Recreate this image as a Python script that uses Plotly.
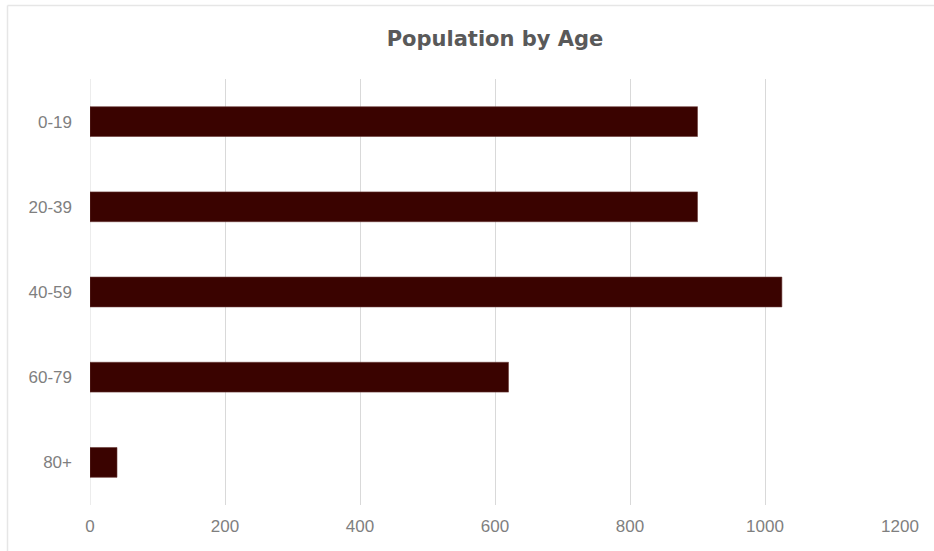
import plotly.graph_objects as go

categories = ["0-19", "20-39", "40-59", "60-79", "80+"]
values = [900, 900, 1025, 620, 40]
x_ticks = [0, 200, 400, 600, 800, 1000, 1200]

W, H = 934, 551
L, R, T, B = 90, 34, 79, 46

fig = go.Figure()
fig.add_trace(go.Bar(
    y=categories, x=values, orientation="h",
    marker=dict(color="#3a0300", line=dict(color="#6a3a38", width=0.6)),
    width=0.35,
))

def px_x(p):
    return (p - L) / (W - L - R)

def px_y(p):
    return 1 - (p - T) / (H - T - B)

# chart frame: top and left edges visible in the reference
fig.add_shape(type="line", xref="paper", yref="paper",
              x0=px_x(7.5), x1=px_x(934), y0=px_y(5.5), y1=px_y(5.5),
              line=dict(color="#e6e6e6", width=1.5), layer="below")
fig.add_shape(type="line", xref="paper", yref="paper",
              x0=px_x(7.5), x1=px_x(7.5), y0=px_y(5.5), y1=px_y(551),
              line=dict(color="#e6e6e6", width=1.5), layer="below")

fig.update_layout(
    width=W, height=H,
    margin=dict(l=L, r=R, t=T, b=B),
    paper_bgcolor="white", plot_bgcolor="white",
    showlegend=False,
    title=dict(text="<b>Population by Age</b>", x=0.5, xref="paper", xanchor="center",
               y=1 - 39 / H, yanchor="middle",
               font=dict(family="DejaVu Sans, sans-serif", size=21, color="#595959")),
    xaxis=dict(range=[0, 1200], tickvals=x_ticks, ticktext=[str(v) for v in x_ticks],
               showgrid=True, gridcolor="#d9d9d9", gridwidth=1, zeroline=False,
               showline=False, ticks="", ticklabelstandoff=9,
               tickfont=dict(family="Liberation Sans, Arial, sans-serif", size=17, color="#7f7f7f")),
    yaxis=dict(categoryorder="array", categoryarray=categories, autorange="reversed",
               showgrid=False, zeroline=False, showline=False, ticks="", ticklabelstandoff=17,
               tickfont=dict(family="Liberation Sans, Arial, sans-serif", size=17, color="#7f7f7f")),
)
fig.add_shape(type="line", xref="x", yref="paper", x0=0, x1=0, y0=0, y1=1,
              line=dict(color="#d9d9d9", width=1), layer="below")

fig.write_html("out.html", config={"displayModeBar": False},
               post_script="document.body.style.margin='0';document.body.style.overflow='hidden';")
